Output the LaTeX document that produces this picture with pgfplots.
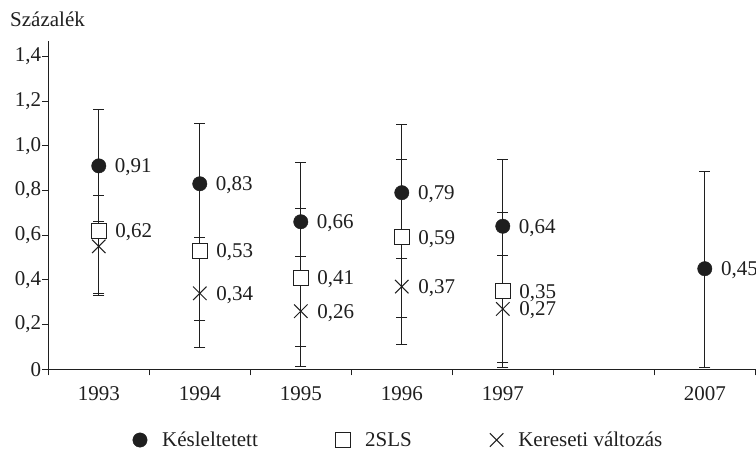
\documentclass[border=0pt]{standalone}
\usepackage{fontspec}
\setmainfont{Liberation Serif}
\usepackage{pgfplots}
\pgfplotsset{compat=1.18}
\usepackage{pgfplotstable}
\newcommand{\fs}{\fontsize{21}{25}\selectfont}
\definecolor{ink}{gray}{0.12}

% x: 1993..1997 at 0.5..4.5, 2007 at 6.5
\pgfplotstableread{
x   y     ep     em     lab
0.5 0.91  0.25   0.25   0,91
1.5 0.83  0.27   0.27   0,83
2.5 0.66  0.265  0.265  0,66
3.5 0.79  0.305  0.295  0,79
4.5 0.64  0.30   0.30   0,64
6.5 0.45  0.437  0.443  0,45
}\kesl
\pgfplotstableread{
x   y     ep     em     lab
0.5 0.62  0.28   0.28   0,62
1.5 0.53  0.31   0.313  0,53
2.5 0.41  0.31   0.31   0,41
3.5 0.59  0.35   0.36   0,59
4.5 0.35  0.35   0.34   0,35
}\tsls
\pgfplotstableread{
x   y     ep     em     lab
0.5 0.55  0.226  0.222  {}
1.5 0.34  0.25   0.242  0,34
2.5 0.26  0.245  0.248  0,26
3.5 0.37  0.25   0.258  0,37
4.5 0.27  0.237  0.24   0,27
}\ker

\begin{document}
\begin{tikzpicture}
\path[use as bounding box] (-48.3pt,-81.7pt) rectangle (707.7pt,369.3pt);
\begin{axis}[
  at={(0pt,0pt)}, anchor=south west,
  scale only axis, width=707pt, height=328.6pt,
  xmin=0, xmax=7, ymin=0, ymax=1.47,
  axis lines*=left,
  axis line style={ink, line width=1pt},
  xtick={0,1,2,3,4,5,6,7},
  xticklabels={1993,1994,1995,1996,1997,{},2007},
  x tick label as interval,
  ytick={0,0.2,0.4,0.6,0.8,1.0,1.2,1.4},
  yticklabels={0,{0,2},{0,4},{0,6},{0,8},{1,0},{1,2},{1,4}},
  tick align=outside,
  major tick length=6pt,
  tick style={ink, line width=1pt},
  ticklabel style={font=\fs, text=ink},
  yticklabel style={inner sep=0pt, xshift=-1pt},
  xticklabel style={inner sep=0pt, yshift=-11pt},
  clip=false,
  legend columns=3,
  legend image code/.code={\draw[#1] plot coordinates {(0pt,0pt)};},
  legend style={draw=none, fill=none, inner sep=0pt, outer sep=0pt,
    at={(axis description cs:0.1195,-0.2152)}, anchor=west,
    font=\fs, text=ink,
    nodes={inner sep=0pt},
    /tikz/every odd column/.append style={column sep=15pt},
    /tikz/every even column/.append style={column sep=78pt}},
  every error bar/.append style={ink, line width=1pt},
  error bars/error mark options={rotate=90, mark size=5.5pt, line width=1pt, ink},
  nodes near coords={\pgfplotspointmeta},
  point meta=explicit symbolic,
  every node near coord/.append style={anchor=base west, inner sep=0pt,
    xshift=16pt, yshift=-7pt, font=\fs, text=ink},
]
\addlegendimage{only marks, mark=*, mark size=7.2pt, mark options={fill=ink, draw=ink}}
\addlegendentry{Késleltetett}
\addlegendimage{only marks, mark=square*, mark size=7.2pt, mark options={fill=white, draw=ink, line width=1pt}}
\addlegendentry{2SLS}
\addlegendimage{only marks, mark=x, mark size=9.5pt, mark options={draw=ink, line width=1pt}}
\addlegendentry{Kereseti változás}

\addplot[forget plot, only marks, mark=*, mark size=7.2pt,
  mark options={fill=ink, draw=ink},
  error bars/.cd, y dir=both, y explicit]
  table[x=x, y=y, y error plus=ep, y error minus=em, meta=lab] {\kesl};
\addplot[forget plot, only marks, mark=x, mark size=9.5pt,
  mark options={draw=ink, line width=1pt},
  error bars/.cd, y dir=both, y explicit]
  table[x=x, y=y, y error plus=ep, y error minus=em, meta=lab] {\ker};
\addplot[forget plot, only marks, mark=square*, mark size=7.5pt,
  mark options={fill=white, draw=ink, line width=1pt},
  error bars/.cd, y dir=both, y explicit]
  table[x=x, y=y, y error plus=ep, y error minus=em, meta=lab] {\tsls};
\end{axis}
\node[anchor=base west, inner sep=0pt, font=\fs, text=ink] at (-38.3pt,342.6pt) {Százalék};
\end{tikzpicture}
\end{document}
